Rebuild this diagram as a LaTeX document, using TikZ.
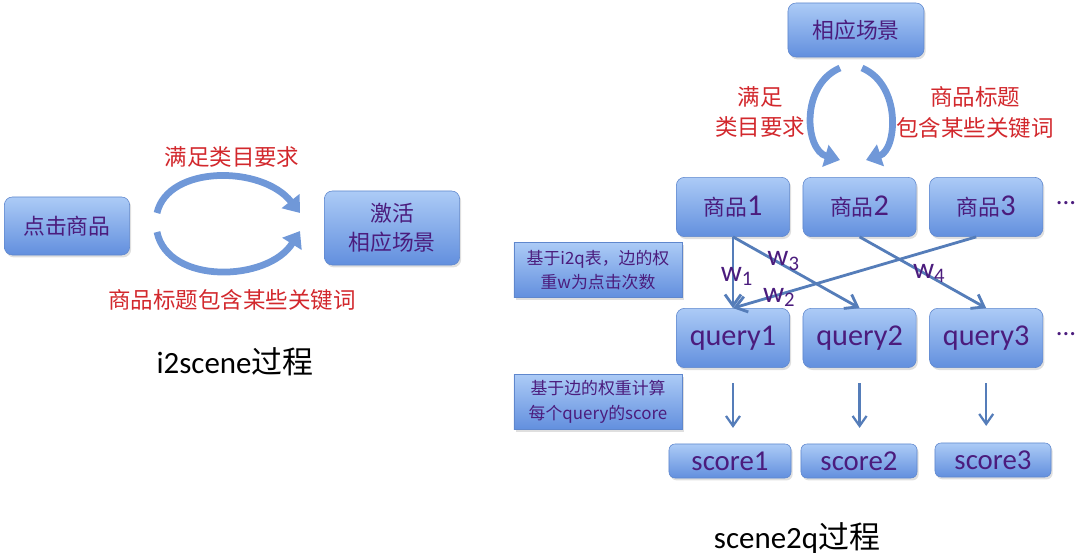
\documentclass[tikz,border=0pt]{standalone}
\usepackage{fontspec}
\setmainfont{Carlito}
\newfontfamily\cjk{Noto Sans CJK SC}
\usetikzlibrary{arrows.meta,positioning,shadows}
\definecolor{boxtop}{RGB}{172,203,246}
\definecolor{boxbot}{RGB}{98,143,222}
\definecolor{boxline}{RGB}{95,135,205}
\definecolor{boxtext}{RGB}{75,28,125}
\definecolor{redtext}{RGB}{210,40,45}
\definecolor{arrowblue}{RGB}{85,125,185}
\definecolor{loopblue}{RGB}{112,152,216}
\newcommand{\zhsize}{\cjk\fontsize{15.5}{20.5}\selectfont}

\begin{document}
\begin{tikzpicture}[x=0.025cm,y=-0.025cm,node distance=3.2mm and 3.2mm,
box/.style={draw=boxline,rounded corners=2mm,top color=boxtop,bottom color=boxbot,text=boxtext,align=center,minimum width=2.83cm,minimum height=1.48cm,drop shadow={opacity=0.25,shadow xshift=0.4mm,shadow yshift=-0.6mm},font=\fontsize{21.5}{25}\selectfont},
note/.style={draw=boxline,top color=boxtop,bottom color=boxbot,text=boxtext,align=center,minimum width=4.2cm,minimum height=1.38cm,drop shadow={opacity=0.25,shadow xshift=0.4mm,shadow yshift=-0.6mm},font=\cjk\fontsize{12}{17.5}\selectfont},
cond/.style={text=redtext,align=center,font=\cjk\fontsize{16}{22}\selectfont},
title/.style={font=\fontsize{22}{26}\selectfont},
arr/.style={-{Straight Barb[length=2.5mm,width=3.5mm]},line width=1.6pt,draw=arrowblue},
warr/.style={-{Straight Barb[length=2.8mm,width=4mm]},line width=2pt,draw=arrowblue},
loop/.style={-{Triangle[length=3.8mm,width=5.5mm]},line width=4.8pt,draw=loopblue},
wlab/.style={text=boxtext,font=\fontsize{21}{22}\selectfont,inner sep=1pt}]
\useasboundingbox (0,0) rectangle (1080,558);
% i2scene
\node[box,font=\zhsize,minimum width=3.13cm,minimum height=1.45cm] (click) at (67,226) {点击商品};
\node[box,font=\zhsize,minimum width=3.38cm,minimum height=1.85cm] (act) at (392,228) {激活\\相应场景};
\coordinate (la1) at (157,213);\coordinate (la2) at (300,213);
\coordinate (lb1) at (157,232);\coordinate (lb2) at (300,231);
\draw[loop] (la1) .. controls (168,165) and (262,165) .. (la2);
\draw[loop] (lb1) .. controls (168,285) and (268,282) .. (lb2);
\node[cond] (req) at (232,157) {满足类目要求};
\node[cond] (kw) at (232,300) {商品标题包含某些关键词};
\node[title] (t1) at (235,362) {i2scene{\cjk 过程}};
% scene2q
\node[box,font=\zhsize,minimum width=3.4cm,minimum height=1.35cm] (scene) at (856,30) {相应场景};
\coordinate (ra1) at (840,68);\coordinate (ra2) at (840,160);
\coordinate (rb1) at (862,68);\coordinate (rb2) at (866,160);
\draw[loop] (ra1) .. controls (800,85) and (805,150) .. (ra2);
\draw[loop] (rb1) .. controls (902,85) and (897,150) .. (rb2);
\node[cond] (req2) at (760,112) {满足\\类目要求};
\node[cond] (kw2) at (975,112) {商品标题\\包含某些关键词};
\node[box] (item1) at (733,207) {{\zhsize 商品}1};
\node[box,right=of item1] (item2) {{\zhsize 商品}2};
\node[box,right=of item2] (item3) {{\zhsize 商品}3};
\node[text=boxtext,font=\fontsize{19}{23}\selectfont] (more1) at (1066,203) {...};
\node[box] (q1) at (733,338) {query1};
\node[box,right=of q1] (q2) {query2};
\node[box,right=of q2] (q3) {query3};
\node[text=boxtext,font=\fontsize{19}{23}\selectfont] (more2) at (1066,334) {...};
\node[note] (n1) at (598,270) {基于i2q表，边的权\\重w为点击次数};
\node[note] (n2) at (598,402) {基于边的权重计算\\每个query的score};
\draw[warr] (item1.south) -- node[wlab,pos=.5,xshift=1mm,yshift=-3pt]{w\textsubscript{1}} (q1.north);
\draw[warr] (item1.south) -- node[wlab,pos=.4,yshift=3pt]{w\textsubscript{3}} (q2.north);
\draw[warr] ([xshift=-2.5mm]item3.south) -- node[wlab,pos=.81,yshift=-2pt]{w\textsubscript{2}} (q1.north);
\draw[warr] (item2.south) -- node[wlab,pos=.55,yshift=2pt]{w\textsubscript{4}} (q3.north);
\node[box,rounded corners=1.5mm,minimum width=3.05cm,minimum height=0.85cm,font=\fontsize{20.5}{24}\selectfont] (s1) at (730,461) {score1};
\node[box,rounded corners=1.5mm,minimum width=2.9cm,minimum height=0.85cm,font=\fontsize{20.5}{24}\selectfont] (s2) at (859,461) {score2};
\node[box,rounded corners=1.5mm,minimum width=2.9cm,minimum height=0.85cm,font=\fontsize{20.5}{24}\selectfont] (s3) at (993,460) {score3};
\draw[arr] ([yshift=-3.8mm]q1.south) -- ([yshift=-15mm]q1.south);
\draw[arr] ([yshift=-3.8mm]q2.south) -- ([yshift=-15mm]q2.south);
\draw[arr] ([yshift=-3.8mm]q3.south) -- ([yshift=-14.5mm]q3.south);
\node[title] (t2) at (797,538) {scene2q{\cjk 过程}};
\end{tikzpicture}
\end{document}
